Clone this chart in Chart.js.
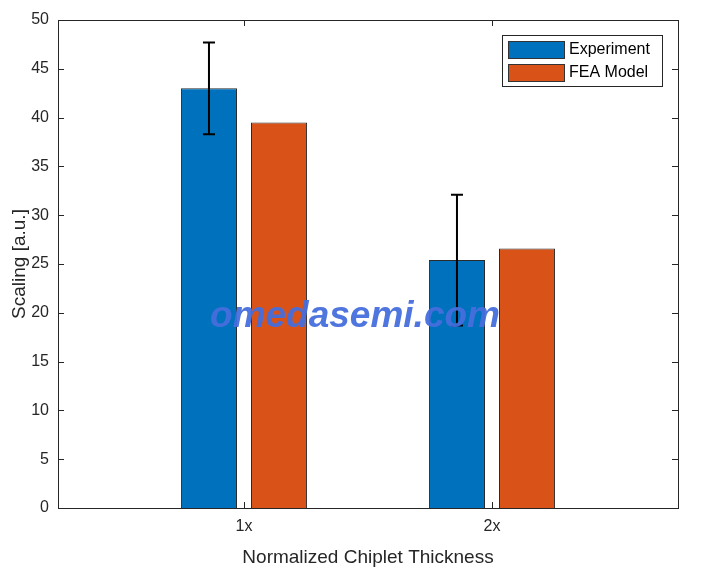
<!DOCTYPE html>
<html>
<head>
<meta charset="utf-8">
<script src="https://cdn.jsdelivr.net/npm/chart.js@4.4.0/dist/chart.umd.min.js"></script>
<style>
  html, body { margin: 0; padding: 0; background: #fff; }
  #wrap { width: 704px; height: 579px; }
</style>
</head>
<body>
<div id="wrap"><canvas id="c" width="704" height="579"></canvas></div>
<script>
// data
const categories = ['1x', '2x'];
const catPos = [1, 2];
const experiment = [43.0, 25.4];
const experimentErr = [4.7, 6.7];
const feaModel = [39.5, 26.6];
const yTicks = [0, 5, 10, 15, 20, 25, 30, 35, 40, 45, 50];

const axisColor = '#262626';
const fontFam = '"Liberation Sans", Arial, Helvetica, sans-serif';

function pts(vals) {
    return vals.map((v, i) => ({x: catPos[i], y: v}));
}

// error bars on the Experiment bars
const errorBars = {
    id: 'errorBars',
    afterDatasetsDraw(chart) {
        const ctx = chart.ctx;
        const meta = chart.getDatasetMeta(0);
        const y = chart.scales.y;
        ctx.save();
        ctx.strokeStyle = '#000';
        ctx.lineWidth = 2;
        meta.data.forEach((bar, i) => {
            const x = bar.x;
            const hi = y.getPixelForValue(experiment[i] + experimentErr[i]);
            const lo = y.getPixelForValue(experiment[i] - experimentErr[i]);
            ctx.beginPath();
            ctx.moveTo(x, hi); ctx.lineTo(x, lo);
            ctx.moveTo(x - 6, hi); ctx.lineTo(x + 6, hi);
            ctx.moveTo(x - 6, lo); ctx.lineTo(x + 6, lo);
            ctx.stroke();
        });
        ctx.restore();
    }
};

// matlab style box, inward ticks, legend, watermark
const boxAndLegend = {
    id: 'boxAndLegend',
    afterDraw(chart) {
        const ctx = chart.ctx;
        const a = chart.chartArea;
        const xs = chart.scales.x, ys = chart.scales.y;
        ctx.save();
        ctx.strokeStyle = axisColor;
        ctx.lineWidth = 1;
        ctx.strokeRect(Math.round(a.left) + 0.5, Math.round(a.top) + 0.5,
            Math.round(a.right - a.left), Math.round(a.bottom - a.top));
        ctx.beginPath();
        yTicks.forEach(t => {
            const py = Math.round(ys.getPixelForValue(t)) + 0.5;
            ctx.moveTo(a.left, py); ctx.lineTo(a.left + 6, py);
            ctx.moveTo(a.right, py); ctx.lineTo(a.right - 6, py);
        });
        catPos.forEach(p => {
            const px = Math.round(xs.getPixelForValue(p)) + 0.5;
            ctx.moveTo(px, a.bottom); ctx.lineTo(px, a.bottom - 6);
            ctx.moveTo(px, a.top); ctx.lineTo(px, a.top + 6);
        });
        ctx.stroke();

        // legend
        const lx = 502, ly = 35, lw = 160, lh = 51;
        ctx.fillStyle = '#fff';
        ctx.fillRect(lx, ly, lw, lh);
        ctx.strokeStyle = axisColor;
        ctx.strokeRect(lx + 0.5, ly + 0.5, lw, lh);
        chart.data.datasets.forEach((ds, i) => {
            const sy = 41 + i * 23;
            ctx.fillStyle = ds.backgroundColor;
            ctx.fillRect(508, sy, 56, 17);
            ctx.strokeStyle = '#333';
            ctx.strokeRect(508.5, sy + 0.5, 56, 17);
            ctx.fillStyle = '#000';
            ctx.font = '16px ' + fontFam;
            ctx.textBaseline = 'middle';
            ctx.textAlign = 'left';
            ctx.fillText(ds.label, 569, sy + 9);
        });

        // watermark
        ctx.font = 'italic bold 37px ' + fontFam;
        ctx.fillStyle = 'rgba(70,110,220,0.95)';
        ctx.textAlign = 'center';
        ctx.textBaseline = 'middle';
        ctx.fillText('omedasemi.com', 355, 317);
        ctx.restore();
    }
};

new Chart(document.getElementById('c').getContext('2d'), {
    type: 'bar',
    data: {
        datasets: [{
            label: 'Experiment',
            data: pts(experiment),
            backgroundColor: '#0072BD',
            borderColor: '#2b2b2b',
            borderWidth: 1
        }, {
            label: 'FEA Model',
            data: pts(feaModel),
            backgroundColor: '#D95319',
            borderColor: '#2b2b2b',
            borderWidth: 1
        }]
    },
    options: {
        responsive: false,
        animation: false,
        categoryPercentage: 0.565,
        barPercentage: 0.8,
        layout: { padding: { top: 20, right: 26, left: 0, bottom: 0 } },
        plugins: { legend: { display: false }, tooltip: { enabled: false } },
        scales: {
            x: {
                type: 'linear',
                min: 0.25,
                max: 2.75,
                offset: false,
                grid: { display: false, drawTicks: false, offset: false },
                border: { display: false },
                afterBuildTicks(s) { s.ticks = catPos.map(v => ({value: v})); },
                afterFit(s) { s.height = 71; },
                ticks: {
                    padding: 9,
                    color: axisColor,
                    font: { family: fontFam, size: 16 },
                    callback: v => categories[catPos.indexOf(v)]
                },
                title: {
                    display: true,
                    text: 'Normalized Chiplet Thickness',
                    color: axisColor,
                    font: { family: fontFam, size: 19 },
                    padding: { top: 4, bottom: 10 }
                }
            },
            y: {
                min: 0,
                max: 50,
                grid: { display: false, drawTicks: false },
                border: { display: false },
                afterBuildTicks(s) { s.ticks = yTicks.map(v => ({value: v})); },
                afterFit(s) { s.width = 58; },
                ticks: {
                    padding: 9,
                    color: axisColor,
                    font: { family: fontFam, size: 16 }
                },
                title: {
                    display: true,
                    text: 'Scaling [a.u.]',
                    color: axisColor,
                    font: { family: fontFam, size: 19 },
                    padding: { top: 8, bottom: 0 }
                }
            }
        }
    },
    plugins: [errorBars, boxAndLegend]
});
</script>
</body>
</html>
